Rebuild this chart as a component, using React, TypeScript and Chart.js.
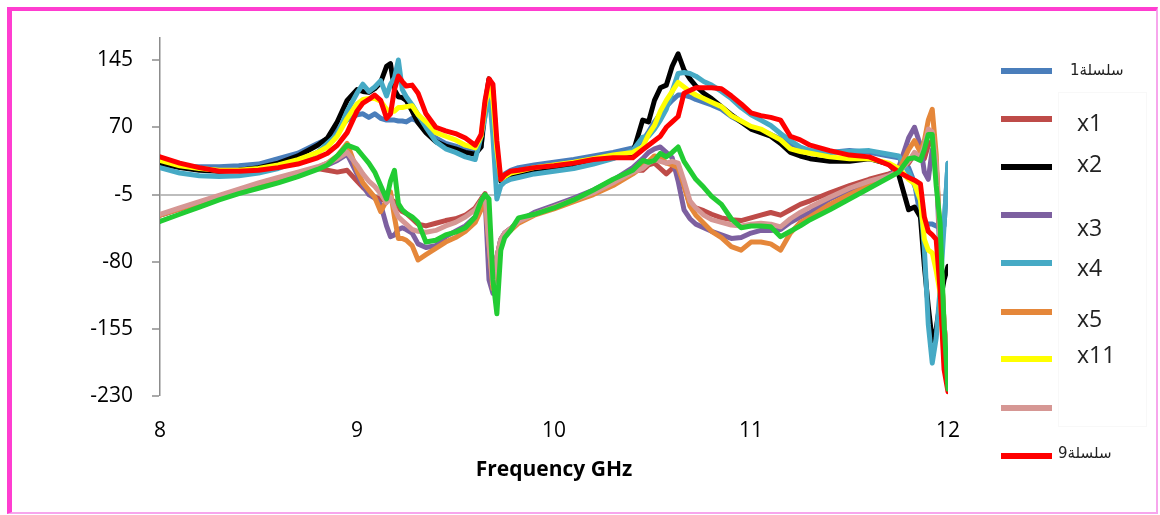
import React, { useEffect, useRef } from 'react';
import { Chart, registerables } from 'chart.js';

Chart.register(...registerables);

// Frequency axis (GHz)
const FREQ = [
  8.00, 8.10, 8.20, 8.30, 8.40, 8.50, 8.60, 8.70, 8.80, 8.85,
  8.90, 8.95, 9.00, 9.03, 9.06, 9.09, 9.12, 9.15, 9.17, 9.19,
  9.21, 9.23, 9.25, 9.28, 9.31, 9.35, 9.40, 9.45, 9.50, 9.55,
  9.60, 9.63, 9.65, 9.67, 9.69, 9.71, 9.73, 9.75, 9.78, 9.82,
  9.90, 10.00, 10.10, 10.20, 10.30, 10.40, 10.45, 10.48, 10.51, 10.54,
  10.57, 10.60, 10.63, 10.66, 10.69, 10.72, 10.76, 10.80, 10.85, 10.90,
  10.95, 11.00, 11.05, 11.10, 11.15, 11.20, 11.25, 11.30, 11.40, 11.50,
  11.60, 11.70, 11.75, 11.80, 11.83, 11.86, 11.88, 11.90, 11.92, 11.94,
  11.96, 11.98, 12.00,
];

const SERIES_1 = [
  27, 26, 26, 26, 27, 29, 35, 41, 52, 57,
  67, 78, 84, 85, 81, 85, 80, 78, 78, 78,
  77, 77, 76, 80, 76, 68, 58, 52, 49, 45,
  42, 48, 85, 106, 90, 20, 14, 18, 22, 25,
  28, 31, 34, 38, 42, 47, 55, 65, 76, 85,
  93, 100, 106, 106, 104, 101, 98, 95, 90, 82,
  76, 70, 66, 62, 57, 52, 47, 43, 42, 44,
  42, 38, 36, 25, 8, -30, -37, -38, -38, -40,
  -42, -40, 30,
];

const X1 = [
  -28, -21, -14, -7, 0, 7, 13, 18, 24, 22,
  20, 22, 10, 3, -3, -8, -10, -12, -10, -13,
  -20, -24, -26, -32, -38, -40, -37, -34, -32, -28,
  -20, -10, -4, -50, -100, -75, -55, -48, -43, -35,
  -26, -19, -11, -2, 9, 22, 22, 28, 30, 24,
  18, 24, 28, 5, -16, -20, -23, -27, -31, -33,
  -34, -31, -28, -25, -28, -22, -16, -12, -3, 5,
  12, 18, 22, 30, 40, 38, 35, 50, 55, 30,
  -60, -150, -200,
];

const X2 = [
  30, 25, 22, 21, 22, 25, 30, 38, 50, 58,
  76, 100, 112, 110, 109, 113, 120, 138, 141, 112,
  104, 103, 100, 88, 75, 64, 54, 49, 46, 42,
  40, 48, 95, 124, 110, 40, 10, 14, 17, 18,
  20, 24, 28, 32, 36, 41, 78, 76, 100, 114,
  117, 138, 152, 134, 124, 116, 108, 102, 93, 84,
  76, 68, 64, 60, 52, 42, 38, 35, 32, 32,
  35, 29, 17, -22, -19, -30, -85, -130, -168, -155,
  -125, -100, -85,
];

const X3 = [
  -28, -21, -14, -7, 0, 7, 13, 19, 25, 28,
  33, 40, 18, 5, -5, -9, -16, -40, -52, -50,
  -44, -42, -44, -48, -60, -64, -62, -52, -46, -40,
  -30, -18, -8, -100, -115, -75, -55, -48, -43, -35,
  -25, -17, -9, 0, 11, 25, 35, 42, 46, 48,
  42, 36, 10, -22, -32, -38, -42, -46, -50, -54,
  -53, -48, -45, -45, -44, -36, -30, -25, -10, 0,
  8, 16, 25, 58, 70, 50, 20, 12, 45, 30,
  -80, -160, -210,
];

const X4 = [
  25, 19, 16, 15, 16, 19, 24, 32, 42, 52,
  62, 88, 108, 118, 110, 115, 122, 105, 118, 125,
  145, 112, 104, 95, 84, 70, 54, 46, 42, 37,
  34, 60, 82, 112, 60, -10, 5, 9, 12, 14,
  18, 21, 24, 29, 35, 44, 59, 60, 68, 78,
  90, 110, 130, 131, 130, 127, 121, 117, 110, 102,
  92, 84, 78, 72, 63, 55, 48, 44, 42, 43,
  44, 40, 38, 20, 5, -12, -65, -150, -193, -165,
  -110, -40, 30,
];

const X5 = [
  -28, -21, -14, -7, 0, 7, 13, 19, 25, 30,
  38, 52, 22, 8, 0, -8, -24, -12, -2, -30,
  -54, -54, -56, -62, -78, -72, -65, -58, -53, -46,
  -36, -22, -12, -60, -110, -80, -58, -50, -45, -37,
  -28, -21, -13, -5, 5, 18, 26, 32, 38, 36,
  30, 28, 25, 5, -18, -28, -37, -46, -53, -63,
  -67, -58, -58, -60, -67, -48, -36, -30, -16, -5,
  5, 15, 22, 45, 55, 42, 55, 78, 90, 40,
  -60, -150, -200,
];

const X11 = [
  33, 27, 24, 22, 22, 24, 28, 34, 42, 48,
  60, 80, 96, 101, 102, 102, 99, 90, 88, 88,
  92, 92, 93, 94, 84, 76, 64, 60, 56, 50,
  47, 60, 95, 115, 100, 45, 12, 15, 19, 21,
  25, 28, 31, 35, 39, 42, 48, 62, 72, 88,
  100, 110, 120, 115, 110, 106, 102, 98, 93, 83,
  77, 71, 68, 62, 56, 46, 43, 41, 37, 35,
  35, 30, 24, 12, 7, -11, -55, -67, -70, -90,
  -115, -190, -220,
];

const PINK = [
  -27, -20, -13, -6, 1, 8, 14, 20, 26, 30,
  35, 42, 28, 18, 10, 4, -4, -14, -8, -20,
  -30, -34, -38, -44, -46, -47, -45, -40, -36, -30,
  -22, -12, -6, -60, -105, -75, -55, -48, -43, -35,
  -27, -19, -11, -3, 8, 20, 24, 30, 34, 32,
  30, 32, 30, 10, -12, -20, -28, -33, -36, -39,
  -40, -38, -37, -38, -41, -32, -25, -19, -8, 2,
  10, 16, 20, 32, 42, 36, 50, 68, 65, 30,
  -60, -150, -200,
];

const SERIES_9 = [
  37, 30, 25, 21, 21, 22, 25, 29, 36, 41,
  50, 64, 88, 97, 101, 106, 100, 80, 85, 112,
  127, 121, 116, 117, 108, 85, 70, 66, 63, 58,
  50, 62, 100, 124, 118, 55, 12, 17, 21, 22,
  25, 27, 30, 34, 36, 36, 45, 50, 55, 60,
  70, 76, 82, 108, 111, 114, 114, 114, 113, 105,
  96, 86, 83, 81, 78, 60, 56, 50, 44, 39,
  37, 28, 20, 14, 11, 7, -30, -46, -50, -55,
  -112, -200, -225,
];

const GREEN = [
  -35, -27, -19, -11, -4, 2, 8, 15, 23, 28,
  38, 50, 46, 38, 30, 20, 5, -10, 10, 22,
  -15, -22, -26, -30, -36, -58, -56, -50, -47, -42,
  -30, -12, -5, -10, -100, -138, -67, -53, -45, -31,
  -27, -20, -11, 0, 12, 22, 33, 31, 33, 41,
  37, 42, 48, 32, 22, 12, 3, -7, -16, -32,
  -42, -40, -40, -41, -52, -46, -40, -33, -22, -10,
  2, 14, 20, 35, 36, 33, 45, 62, 62, 5,
  -37, -150, -222,
];

const LABELS = ['سلسلة1', 'x1', 'x2', 'x3', 'x4', 'x5', 'x11', '', 'سلسلة9', ''];
const COLORS = ['#4A7EBB', '#BE4B48', '#000000', '#7D60A0', '#46AAC5', '#E5873A', '#FFFF00', '#D69794', '#FF0000', '#22CC33'];
const VALUES = [SERIES_1, X1, X2, X3, X4, X5, X11, PINK, SERIES_9, GREEN];
const IN_LEGEND = [true, true, true, true, true, true, true, true, true, false];

const Y_TICKS = [-230, -155, -80, -5, 70, 145];
const X_TICKS = [8, 9, 10, 11, 12];
const X_TITLE = 'Frequency GHz';

const FONT = "'Open Sans', 'Liberation Sans', sans-serif";

// legend layout (pixels)
const LEG_LINE_Y = [70.7, 119, 166.7, 214.7, 263, 311.7, 359.3, 407.7, 455.7];
const LEG_TEXT_Y = [70, 122.7, 164, 228, 268, 319, 355, 0, 453];
const LEG_TEXT_X = [1070, 1077, 1077, 1077, 1077, 1077, 1077, 1077, 1058];

export default function App() {
  const ref = useRef<HTMLCanvasElement>(null);

  useEffect(() => {
    const canvas = ref.current;
    if (!canvas) return;
    const n = VALUES.length;
    const chart = new Chart(canvas, {
      type: 'line',
      data: {
        datasets: VALUES.map((vals, i) => ({
          label: LABELS[i] || 'series',
          data: FREQ.map((f, k) => ({ x: f, y: vals[k] })),
          borderColor: COLORS[i],
          backgroundColor: COLORS[i],
          borderWidth: 5,
          pointRadius: 0,
          pointHoverRadius: 0,
          tension: 0,
          fill: false,
          borderJoinStyle: 'round',
          borderCapStyle: 'round',
          order: n - i,
        })),
      },
      options: {
        responsive: false,
        animation: false,
        devicePixelRatio: 1,
        events: [],
        layout: { padding: { left: 60, right: 212, top: 37.6, bottom: 0 } },
        plugins: { legend: { display: false }, tooltip: { enabled: false } },
        scales: {
          x: {
            type: 'linear',
            min: 8,
            max: 12,
            afterBuildTicks: (s: any) => { s.ticks = X_TICKS.map((v) => ({ value: v })); },
            afterFit: (s: any) => { s.height = 118.7; },
            ticks: { color: '#000', font: { family: FONT, size: 21 }, padding: 22, maxRotation: 0, autoSkip: false },
            grid: { display: false, drawTicks: false, drawOnChartArea: false },
            border: { display: false },
            title: {
              display: true,
              text: X_TITLE,
              color: '#000',
              font: { family: FONT, size: 21, weight: 'bold' },
              padding: { top: 0, bottom: 32 },
            },
          },
          y: {
            type: 'linear',
            min: -230,
            max: 170,
            afterBuildTicks: (s: any) => { s.ticks = Y_TICKS.map((v) => ({ value: v })); },
            afterFit: (s: any) => { s.width = 100; },
            ticks: { color: '#000', font: { family: FONT, size: 21 }, padding: 19 },
            grid: {
              drawOnChartArea: true,
              drawTicks: true,
              tickLength: 8,
              tickColor: '#8C8C8C',
              tickWidth: 1.5,
              color: (c: any) => (c.tick && c.tick.value === -5 ? '#BDBDBD' : 'rgba(0,0,0,0)'),
              lineWidth: (c: any) => (c.tick && c.tick.value === -5 ? 2 : 0),
            },
            border: { display: true, color: '#8C8C8C', width: 1.5 },
          },
        },
      },
    } as any);
    return () => chart.destroy();
  }, []);

  return (
    <div style={{ position: 'absolute', left: 0, top: 0, width: 1160, height: 515, background: '#fff', overflow: 'hidden' }}>
      <canvas ref={ref} width={1160} height={515} style={{ position: 'absolute', left: 0, top: 0, width: 1160, height: 515 }} />
      <div
        style={{
          position: 'absolute', left: 7, top: 7, width: 1151, height: 507, boxSizing: 'border-box',
          borderTop: '4px solid #FF3DD0', borderLeft: '5px solid #FF3DD0',
          borderRight: '2px solid #F7A6EC', borderBottom: '2px solid #F7A6EC', pointerEvents: 'none',
        }}
      />
      <div style={{ position: 'absolute', left: 1058, top: 92, width: 89, height: 335, border: '1px solid #F8F8F8', boxSizing: 'border-box' }} />
      {LABELS.map((lab, i) => {
        if (!IN_LEGEND[i]) return null;
        const arabic = /[\u0600-\u06FF]/.test(lab);
        return (
          <React.Fragment key={i}>
            <div style={{ position: 'absolute', left: 1001, top: LEG_LINE_Y[i] - 3, width: 51, height: 6, background: COLORS[i] }} />
            {lab ? (
              <div
                style={{
                  position: 'absolute', left: LEG_TEXT_X[i], top: LEG_TEXT_Y[i] - (arabic ? 11 : 16),
                  lineHeight: arabic ? '22px' : '30px', whiteSpace: 'nowrap', color: '#222',
                  fontFamily: arabic ? "'DejaVu Sans', sans-serif" : FONT, fontSize: arabic ? 15 : 23,
                  letterSpacing: arabic ? '-0.5px' : undefined,
                }}
              >
                {lab}
              </div>
            ) : null}
          </React.Fragment>
        );
      })}
    </div>
  );
}
